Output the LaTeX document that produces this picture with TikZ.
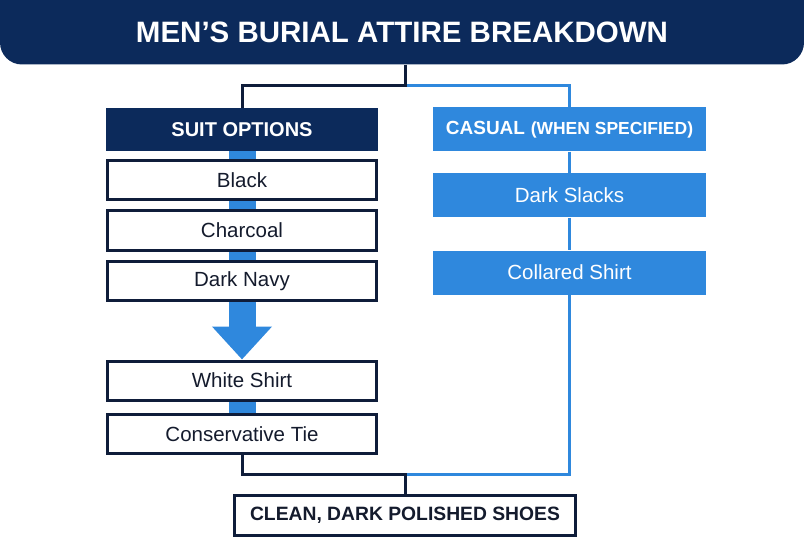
\documentclass[tikz,border=0pt]{standalone}
\usepackage{fontspec}
\setmainfont{Liberation Sans}
\usetikzlibrary{arrows.meta,backgrounds}
\definecolor{navy}{HTML}{0C2A5B}
\definecolor{edge}{HTML}{0F1D3A}
\definecolor{skyblue}{HTML}{2F88DD}
\definecolor{ink}{HTML}{141B2D}
\tikzset{
    titlebar/.style={fill=navy,text=white,rounded corners=22pt,minimum width=804pt,minimum height=64pt,inner sep=0pt,font=\fontsize{29.5}{34}\selectfont\bfseries},
    headbox/.style={fill=navy,text=white,minimum width=272pt,minimum height=43pt,font=\fontsize{20}{24}\selectfont\bfseries},
    suitbox/.style={draw=edge,line width=3pt,fill=white,text=ink,minimum width=269pt,minimum height=39pt,font=\fontsize{20.5}{24}\selectfont},
    casualbox/.style={fill=skyblue,text=white,minimum width=273pt,minimum height=44pt,font=\fontsize{20.5}{24}\selectfont},
    shoebox/.style={draw=edge,line width=3pt,fill=white,text=ink,minimum width=341pt,minimum height=40pt,font=\fontsize{19.3}{23}\selectfont\bfseries},
    navyline/.style={draw=edge,line width=3pt},
    blueline/.style={draw=skyblue,line width=3pt},
    bar/.style={draw=skyblue,line width=27pt}
}
\begin{document}
\begin{tikzpicture}[x=1pt,y=-1pt]
    \useasboundingbox (0,0) rectangle (804,559);
    \fill[navy] (0,0) rectangle (804,30);
    \node[titlebar] (title) at (402,32.5) {MEN’S BURIAL ATTIRE BREAKDOWN};
    % suit column
    \node[headbox] (suit) at (242,129.5) {SUIT OPTIONS};
    \node[suitbox] (black) at (242,180.5) {Black};
    \node[suitbox] (charcoal) at (242,230.5) {Charcoal};
    \node[suitbox] (darknavy) at (242,281) {Dark Navy};
    \node[suitbox] (shirt) at (242,380.5) {White Shirt};
    \node[suitbox] (tie) at (242,434) {Conservative Tie};
    % casual column
    \node[casualbox] (casual) at (569.5,129.5) {{\fontsize{19}{22}\selectfont\bfseries CASUAL} {\fontsize{17.5}{20}\selectfont\bfseries(WHEN SPECIFIED)}};
    \node[casualbox] (slacks) at (569.5,195.5) {Dark Slacks};
    \node[casualbox] (collared) at (569.5,272.5) {Collared Shirt};
    \node[shoebox] (shoes) at (405,515.5) {CLEAN, DARK POLISHED SHOES};
    \coordinate (split) at (405,86);
    \coordinate (join) at (405,474);
    \begin{scope}[on background layer]
        \draw[blueline] (split) -| (casual.north);
        \draw[navyline] (split |- title.south) -- (split) -| (suit.north);
        \draw[bar] (suit.south) -- (black.north);
        \draw[bar] (black.south) -- (charcoal.north);
        \draw[bar] (charcoal.south) -- (darknavy.north);
        \draw[bar,-{Triangle[width=58pt,length=33pt]}] (darknavy.south) -- (shirt.north);
        \draw[bar] (shirt.south) -- (tie.north);
        \draw[blueline] (casual) -- (slacks) -- (collared);
        \draw[blueline] (collared.south) |- (join);
        \draw[navyline] (tie.south) |- (join) -- (shoes.north);
    \end{scope}
\end{tikzpicture}
\end{document}
